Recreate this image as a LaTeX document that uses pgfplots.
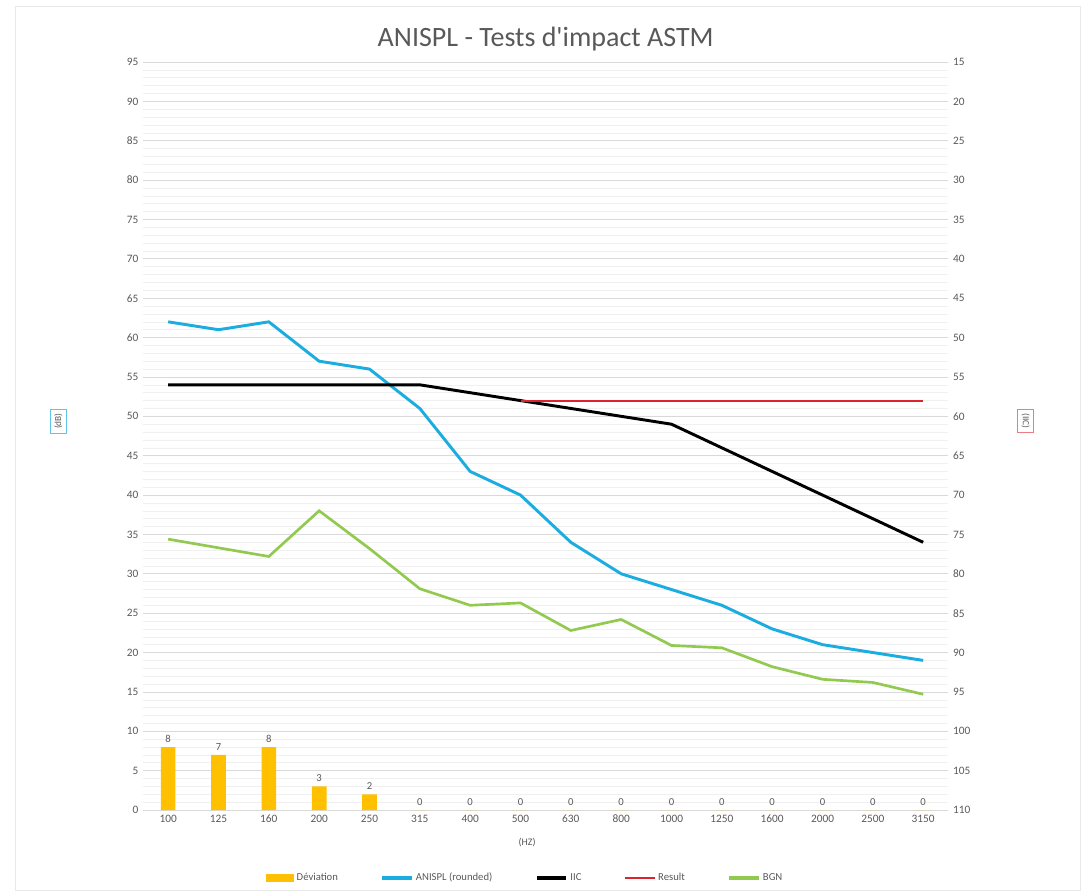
\documentclass[border=0pt]{standalone}
\usepackage{pgfplots}
\pgfplotsset{compat=1.18}
\usepackage{fontspec}
\setmainfont{Carlito}
\newfontfamily\titlefont{Carlito}[Ligatures=ResetAll]
\definecolor{dev}{HTML}{FFC000}
\definecolor{anis}{HTML}{1BACE0}
\definecolor{bgn}{HTML}{92C94F}
\definecolor{res}{HTML}{D9262E}
\definecolor{txt}{HTML}{595959}
\definecolor{gridc}{HTML}{D9D9D9}
\begin{document}
\begin{tikzpicture}
\path (-107.25pt,-63pt) rectangle (709.5pt,607.5pt);
\draw[gridc!60] (-96pt,-60pt) rectangle (702.75pt,603pt);
\begin{axis}[
  scale only axis, width=604pt, height=561pt,
  xmin=-0.5, xmax=15.5, ymin=0, ymax=95,
  axis x line*=bottom, axis y line*=left,
  x axis line style={gridc, -}, y axis line style={draw=none},
  xtick={0,...,15},
  xticklabels={100,125,160,200,250,315,400,500,630,800,1000,1250,1600,2000,2500,3150},
  ytick={0,5,...,95},
  minor y tick num=4,
  ymajorgrids, yminorgrids,
  major grid style={gridc, line width=0.6pt},
  minor grid style={gridc!40, line width=0.4pt},
  tick style={draw=none},
  /pgf/number format/assume math mode=true,
  tick label style={font=\fontsize{8.5}{10}\selectfont, text=txt},
  title={ANISPL - Tests d'impact ASTM},
  title style={font=\titlefont\fontsize{21}{24}\selectfont, text=txt, at={(0.5,1)}, anchor=south, yshift=-1.5pt},
  xlabel={(HZ)},
  xlabel style={font=\fontsize{7.5}{9}\selectfont, text=txt, at={(axis description cs:0.477,-0.044)}, anchor=center},
  ylabel={(dB)},
  ylabel style={font=\fontsize{7}{8}\selectfont, text=txt, draw=anis!70, inner sep=3pt, at={(axis description cs:-0.105,0.52)}, anchor=center},
  legend style={at={(axis description cs:0.475,-0.091)}, anchor=center, legend columns=5, draw=none, fill=none,
    font=\fontsize{8}{9}\selectfont, text=txt,
    /tikz/every even column/.append style={column sep=30pt}},
  legend cell align=left,
]
\addplot[ybar, bar width=11pt, fill=dev, draw=none,
  nodes near coords, nodes near coords style={font=\fontsize{8}{9}\selectfont, text=txt},
  legend image code/.code={\fill[dev] (0pt,-3pt) rectangle (21pt,3pt);}]
  coordinates {(0,8) (1,7) (2,8) (3,3) (4,2) (5,0) (6,0) (7,0) (8,0) (9,0) (10,0) (11,0) (12,0) (13,0) (14,0) (15,0)};
\addlegendentry{Déviation}
\addplot[anis, line width=2.2pt, legend image code/.code={\draw[anis, line width=2.5pt] (0pt,0pt) -- (22pt,0pt);}]
  coordinates {(0,62) (1,61) (2,62) (3,57) (4,56) (5,51) (6,43) (7,40) (8,34) (9,30) (10,28) (11,26) (12,23) (13,21) (14,20) (15,19)};
\addlegendentry{ANISPL (rounded)}
\addplot[black, line width=2.2pt, legend image code/.code={\draw[black, line width=2.5pt] (0pt,0pt) -- (22pt,0pt);}]
  coordinates {(0,54) (1,54) (2,54) (3,54) (4,54) (5,54) (6,53) (7,52) (8,51) (9,50) (10,49) (11,46) (12,43) (13,40) (14,37) (15,34)};
\addlegendentry{IIC}
\addplot[res, line width=1.4pt, legend image code/.code={\draw[res, line width=1.6pt] (0pt,0pt) -- (22pt,0pt);}]
  coordinates {(7,52) (15,52)};
\addlegendentry{Result}
\addplot[bgn, line width=2pt, legend image code/.code={\draw[bgn, line width=2.5pt] (0pt,0pt) -- (22pt,0pt);}]
  coordinates {(0,34.4) (1,33.3) (2,32.2) (3,38) (4,33.2) (5,28.1) (6,26) (7,26.3) (8,22.8) (9,24.2) (10,20.9) (11,20.6) (12,18.2) (13,16.6) (14,16.2) (15,14.7)};
\addlegendentry{BGN}
\end{axis}
\begin{axis}[
  scale only axis, width=604pt, height=561pt,
  xmin=-0.5, xmax=15.5, ymin=15, ymax=110, y dir=reverse,
  axis y line*=right, hide x axis,
  y axis line style={draw=none},
  ytick={15,20,...,110},
  tick style={draw=none},
  /pgf/number format/assume math mode=true,
  tick label style={font=\fontsize{8.5}{10}\selectfont, text=txt},
  ylabel={(IIC)},
  ylabel style={font=\fontsize{7}{8}\selectfont, text=txt, draw=res!60, inner sep=3pt, at={(axis description cs:1.096,0.52)}, anchor=center, rotate=180},
]
\addplot[draw=none] coordinates {(0,50)};
\end{axis}
\end{tikzpicture}
\end{document}
